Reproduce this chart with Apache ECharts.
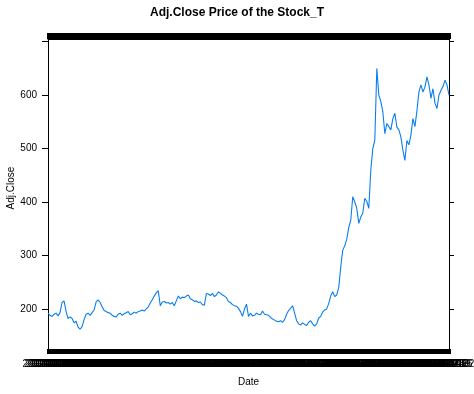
<!DOCTYPE html>
<html><head><meta charset="utf-8">
<script src="https://cdn.jsdelivr.net/npm/echarts@6/dist/echarts.min.js"></script>
<style>html,body{margin:0;padding:0;background:#fff}#c{width:474px;height:394px}</style>
</head><body><div id="c"></div>
<script>
const adjClose = [
192,188,186,190,192,187,193,212,215,196,
182,185,182,174,177,166,162,167,180,190,
192,188,193,198,213,217,212,204,197,195,
193,192,188,186,185,190,192,188,191,193,
195,189,191,194,192,195,196,198,196,200,
204,211,217,224,230,234,206,213,214,211,
212,209,212,206,215,224,219,222,221,224,
226,219,217,214,215,212,213,208,207,229,
228,225,229,223,226,232,229,226,224,221,
214,212,208,206,205,201,195,186,200,209,
186,192,187,188,192,190,189,196,190,189,
188,184,181,179,177,176,178,175,180,190,
197,201,206,192,178,172,170,174,171,169,
175,178,172,168,172,183,186,194,198,200,
210,224,232,223,226,240,278,310,318,330,
352,366,410,400,388,360,372,379,407,401,
388,460,500,516,650,600,588,569,528,547,
541,535,556,566,540,535,522,497,478,515,
507,525,556,541,570,606,619,606,615,634,
619,594,612,585,575,600,609,616,628,619,
600
];
const yTickValues = [200, 300, 400, 500, 600, 700];
const yLabelValues = [200, 300, 400, 500, 600];
const startDate = '2012-01-02';
const dates = [];
(function () {
  let t = Date.parse(startDate + 'T00:00:00Z');
  for (let i = 0; i < adjClose.length; i++) {
    dates.push(new Date(t).toISOString().slice(0, 10));
    t += 7 * 86400000;
  }
})();

const FONT = 'Liberation Sans, Arial, sans-serif';
const chart = echarts.init(document.getElementById('c'), null, {renderer: 'canvas'});
const axisLineStyle = {color: '#000', width: 1};
chart.setOption({
  animation: false,
  backgroundColor: '#fff',
  title: {
    text: 'Adj.Close Price of the Stock_T',
    left: 'center', top: 2,
    textStyle: {fontFamily: FONT, fontSize: 12, fontWeight: 'bold', color: '#000'}
  },
  grid: {left: 48, right: 25, top: 39, bottom: 45, containLabel: false, outerBoundsMode: 'none'},
  xAxis: [
    {
      type: 'category', data: dates, boundaryGap: false, position: 'bottom',
      name: 'Date', nameLocation: 'middle', nameGap: 28, nameMoveOverlap: false,
      nameTextStyle: {fontFamily: FONT, fontSize: 10, color: '#000'},
      axisLine: {show: true, lineStyle: axisLineStyle},
      axisTick: {show: true, interval: 0, length: 5, lineStyle: {color: '#000', width: 3}},
      axisLabel: {show: true, interval: 0, hideOverlap: false, fontFamily: FONT, fontSize: 10, color: '#000', margin: 10},
      splitLine: {show: false}
    },
    {
      type: 'category', data: dates, boundaryGap: false, position: 'top',
      axisLine: {show: true, lineStyle: axisLineStyle},
      axisTick: {show: true, interval: 0, length: 6, lineStyle: {color: '#000', width: 3}},
      axisLabel: {show: false},
      splitLine: {show: false}
    }
  ],
  yAxis: [
    {
      type: 'value', min: 125, max: 705, position: 'left',
      name: 'Adj.Close', nameLocation: 'middle', nameGap: 32, nameRotate: 90, nameMoveOverlap: false,
      nameTextStyle: {fontFamily: FONT, fontSize: 10, color: '#000', padding: [0, 0, 0, 12]},
      axisLine: {show: true, lineStyle: axisLineStyle},
      axisTick: {show: true, length: 6, customValues: yTickValues, lineStyle: {color: '#000'}},
      axisLabel: {customValues: yLabelValues, fontFamily: FONT, fontSize: 10, color: '#000', margin: 11},
      splitLine: {show: false}
    },
    {
      type: 'value', min: 125, max: 705, position: 'right',
      axisLine: {show: true, lineStyle: axisLineStyle},
      axisTick: {show: true, length: 5, customValues: yTickValues, lineStyle: {color: '#000'}},
      axisLabel: {show: false},
      splitLine: {show: false}
    }
  ],
  series: [{
    type: 'line', data: adjClose, xAxisIndex: 0, yAxisIndex: 0,
    showSymbol: false, symbol: 'none',
    lineStyle: {color: '#0a7ef0', width: 1.1},
    itemStyle: {color: '#0a7ef0'}
  }]
});
</script></body></html>
